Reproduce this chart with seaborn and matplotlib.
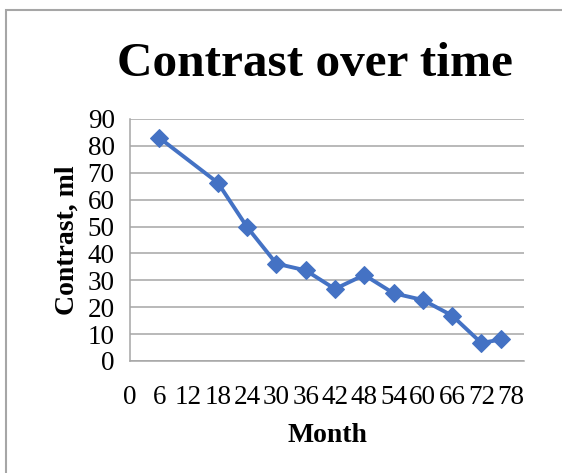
import matplotlib
matplotlib.use("Agg")
import matplotlib.pyplot as plt
import seaborn as sns
import pandas as pd
from matplotlib.patches import Rectangle

months = [6, 18, 24, 30, 36, 42, 48, 54, 60, 66, 72, 76]
contrast = [83, 66.3, 49.8, 36.2, 33.7, 26.8, 32.0, 25.2, 22.7, 16.9, 6.7, 8.0]
x_ticks = [0, 6, 12, 18, 24, 30, 36, 42, 48, 54, 60, 66, 72, 78]
y_ticks = [0, 10, 20, 30, 40, 50, 60, 70, 80, 90]

df = pd.DataFrame({"Month": months, "Contrast": contrast})

sns.set_theme(style="white")
plt.rcParams["font.family"] = ["Liberation Serif", "DejaVu Serif"]
plt.rcParams["text.color"] = "black"
plt.rcParams["axes.labelcolor"] = "black"
plt.rcParams["xtick.color"] = "black"
plt.rcParams["ytick.color"] = "black"

fig = plt.figure(figsize=(5.62, 4.73), dpi=100)
ax = fig.add_axes([130/562, 1-361/473, (524.3-130)/562, (361-119)/473])

blue = "#4472C4"
grey = "#A6A6A6"
sns.lineplot(data=df, x="Month", y="Contrast", ax=ax, color=blue, lw=2.8,
             marker="D", markersize=9, markeredgecolor=blue, markerfacecolor=blue)

ax.set_xlim(0, 80.8)
ax.set_ylim(0, 90)
ax.set_xticks(x_ticks)
ax.set_yticks(y_ticks)
ax.set_xticklabels([str(v) for v in x_ticks], fontsize=19.5, color="black")
ax.set_yticklabels([str(v) for v in y_ticks], fontsize=19.5, color="black")
ax.yaxis.grid(True, color=grey, lw=1.1)
ax.set_axisbelow(True)
for s in ["top", "right"]:
    ax.spines[s].set_visible(False)
for s in ["left", "bottom"]:
    ax.spines[s].set_color(grey)
    ax.spines[s].set_linewidth(1.1)
ax.tick_params(axis="both", which="major", length=7, width=1.1, color=grey,
               direction="out", pad=4, labelcolor="black")
ax.tick_params(axis="x", pad=10)
ax.set_xlabel("Month", fontsize=20, fontweight="bold", labelpad=10, color="black")
ax.set_ylabel("Contrast, ml", fontsize=20, fontweight="bold", labelpad=6, color="black")

fig.text(0.5 * (117 + 512) / 562, 1 - 64/473, "Contrast over time", fontsize=35.5,
         fontweight="bold", ha="center", va="center", color="black")

fig.patches.append(Rectangle((6.5/562, -0.1), 1.2, 1 - 10/473 + 0.1,
                             transform=fig.transFigure, fill=False,
                             edgecolor="#A6A6A6", lw=1.5))

fig.savefig("out.png", dpi=100)
